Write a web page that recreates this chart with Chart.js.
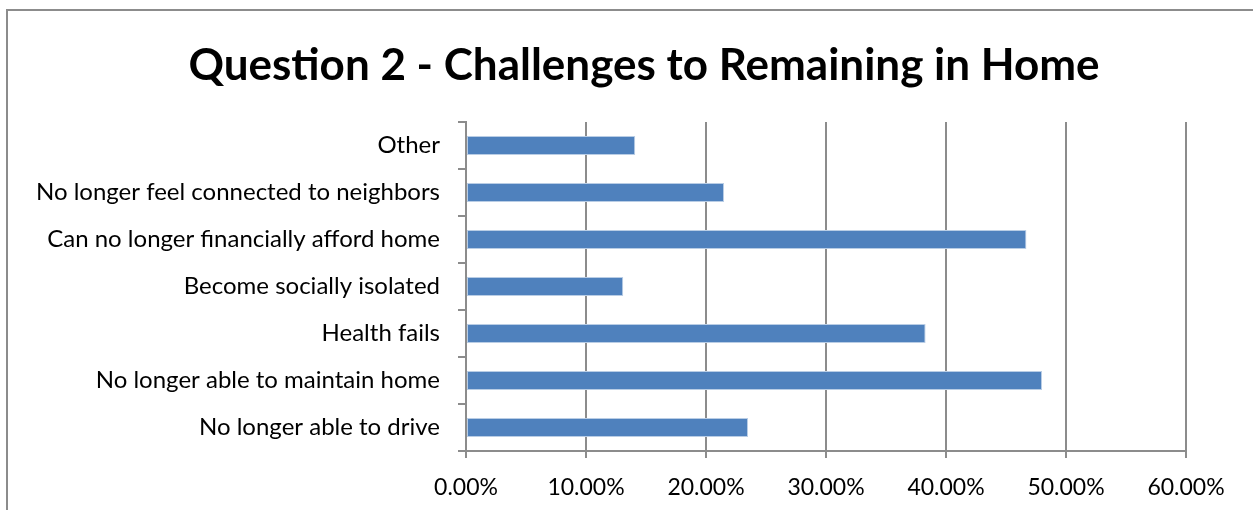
<!DOCTYPE html>
<html>
<head>
<meta charset="utf-8">
<script src="https://cdn.jsdelivr.net/npm/chart.js@4/dist/chart.umd.min.js"></script>
<style>
  body { margin: 0; background: #fff; overflow: hidden; }
  #wrap { position: relative; width: 1253px; height: 510px; overflow: hidden; }
  #frame { position: absolute; left: 6px; top: 9px; width: 1300px; height: 560px; border: 2px solid #8c8c8c; box-sizing: border-box; }
  canvas { position: absolute; left: 0; top: 0; }
</style>
</head>
<body>
<div id="wrap">
  <div id="frame"></div>
  <canvas id="questionTwoChart" width="1253" height="510"></canvas>
</div>
<script>
var chartTitle = "Question 2 - Challenges to Remaining in Home";
var categories = [
  "Other",
  "No longer feel connected to neighbors",
  "Can no longer financially afford home",
  "Become socially isolated",
  "Health fails",
  "No longer able to maintain home",
  "No longer able to drive",
];
var percentValues = [14.1, 21.5, 46.7, 13.1, 38.3, 48.0, 23.5];
var tickValues = [0, 10, 20, 30, 40, 50, 60];

var myQuestionTwoChart;

// title sits off-centre compared to the plot box, so draw it ourselves
var titlePlugin = {
  id: "offsetTitle",
  afterDraw: function (chart) {
    var c = chart.ctx;
    c.save();
    c.fillStyle = "#000";
    c.font = "bold 44px Lato";
    c.textAlign = "center";
    c.textBaseline = "middle";
    c.fillText(chartTitle, 644, 66);
    c.restore();
  },
};

function renderQuestionTwoChart() {
  var canvas = document.getElementById("questionTwoChart");
  var ctx = canvas.getContext("2d");
  myQuestionTwoChart = new Chart(ctx, {
    type: "bar",
    data: {
      labels: categories,
      datasets: [
        {
          data: percentValues,
          backgroundColor: "#4f81bd",
          borderColor: "#b9cde5",
          borderWidth: 1,
          borderSkipped: false,
          barPercentage: 0.4,
          categoryPercentage: 1,
        },
      ],
    },
    options: {
      indexAxis: "y",
      responsive: false,
      animation: false,
      layout: {
        padding: { left: 0, right: 67, top: 122, bottom: 0 },
      },
      plugins: {
        legend: { display: false },
        tooltip: { enabled: false },
        title: { display: false },
      },
      scales: {
        x: {
          min: 0,
          max: 60,
          afterBuildTicks: function (scale) {
            scale.ticks = tickValues.map(function (v) { return { value: v }; });
          },
          afterFit: function (scale) { scale.height = 59; },
          ticks: {
            color: "#000",
            font: { family: "Lato", size: 23 },
            padding: 16,
            maxRotation: 0,
            callback: function (value) { return value.toFixed(2) + "%"; },
          },
          grid: {
            color: "#8c8c8c",
            lineWidth: 2,
            tickLength: 7,
          },
          border: { color: "#8c8c8c", width: 2 },
        },
        y: {
          afterFit: function (scale) { scale.width = 466; },
          ticks: {
            color: "#000",
            font: { family: "Lato", size: 24 },
            padding: 18,
          },
          grid: {
            offset: true,
            drawOnChartArea: false,
            color: "#8c8c8c",
            lineWidth: 2,
            tickLength: 8,
          },
          border: { color: "#8c8c8c", width: 2 },
        },
      },
    },
    plugins: [titlePlugin],
  });
}

renderQuestionTwoChart();
</script>
</body>
</html>
